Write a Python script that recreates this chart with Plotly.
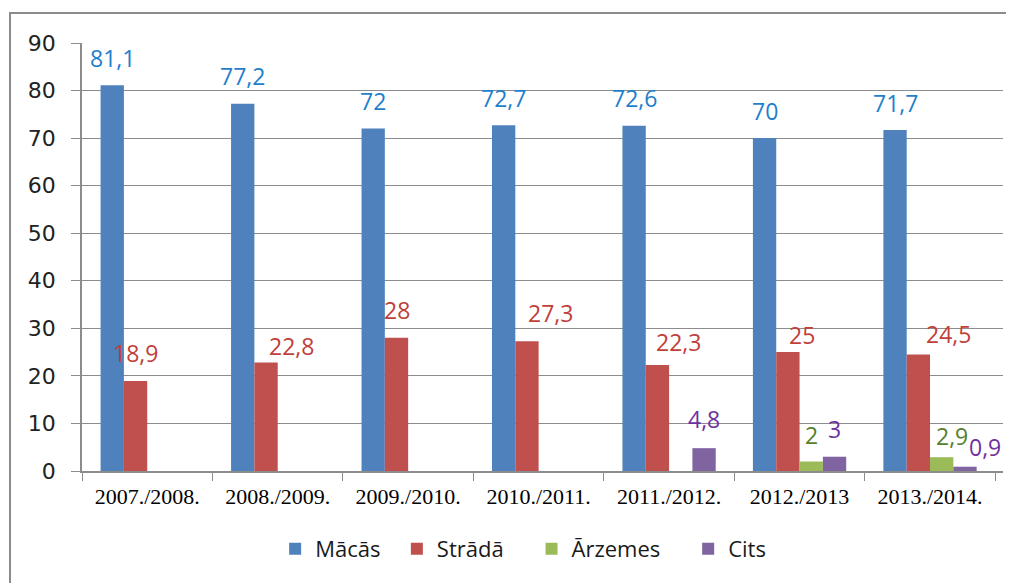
import plotly.graph_objects as go

categories = ["2007./2008.", "2008./2009.", "2009./2010.", "2010./2011.",
              "2011./2012.", "2012./2013", "2013./2014."]
macas = [81.1, 77.2, 72, 72.7, 72.6, 70, 71.7]
strada = [18.9, 22.8, 28, 27.3, 22.3, 25, 24.5]
arzemes = [None, None, None, None, None, 2, 2.9]
cits = [None, None, None, None, 4.8, 3, 0.9]
y_ticks = [0, 10, 20, 30, 40, 50, 60, 70, 80, 90]

series = [
    ("Mācās", macas, "#4F81BD", "#1E7FCB"),
    ("Strādā", strada, "#C0504D", "#C0403A"),
    ("Ārzemes", arzemes, "#9BBB59", "#55802E"),
    ("Cits", cits, "#8064A2", "#7030A0"),
]
legend_pad = [2, 4, 4, 0]

# label nudges (px) per series, per category: (dx, dy above bar top)
label_nudge = [
    [(0, 26.5)] * 7,
    [(0, 27), (25, 16), (0, 26.5), (24, 27), (21, 22), (14, 16), (30.5, 19)],
    [(0, 0)] * 5 + [(0, 25), (10.5, 20)],
    [(0, 0)] * 4 + [(0, 28), (0, 27), (20, 19)],
]

bargap = 0.285
bar_w = (1 - bargap) / 4


def fmt(v):
    s = ("%g" % v)
    return s.replace(".", ",")


fig = go.Figure()
for (name, vals, col, _), pad in zip(series, legend_pad):
    fig.add_trace(go.Bar(name=name + "\u00a0" * pad, x=categories, y=vals,
                         marker=dict(color=col, line=dict(width=0))))

annotations = []
for si, (name, vals, col, lcol) in enumerate(series):
    off = (si - 1.5) * bar_w
    for ci, v in enumerate(vals):
        if v is None:
            continue
        dx, dy = label_nudge[si][ci]
        annotations.append(dict(
            x=ci + off, y=v, xref="x", yref="y", text=fmt(v), showarrow=False,
            xanchor="center", yanchor="middle", xshift=dx, yshift=dy + 1,
            font=dict(family="Open Sans", size=23, color=lcol)))

# page body has an 8px margin; figure sized so its drawing lands as in the reference
fig.update_layout(
    width=1006, height=575,
    margin=dict(l=74, r=11, t=35, b=112, autoexpand=False),
    paper_bgcolor="white", plot_bgcolor="white",
    barmode="group", bargap=bargap, bargroupgap=0,
    annotations=annotations,
    showlegend=True,
    legend=dict(orientation="h", x=0.479, xanchor="center", y=-0.182, yanchor="middle",
                font=dict(family="Open Sans", size=22, color="#1a1a1a"),
                itemwidth=30, traceorder="normal"),
    xaxis=dict(type="category", showgrid=False, showline=True, linecolor="#8C8C8C", linewidth=1.5,
               ticks="outside", tickson="boundaries", ticklen=8, tickcolor="#8C8C8C",
               tickfont=dict(family="Liberation Serif", size=22, color="black"),
               ticklabelstandoff=5),
    yaxis=dict(range=[0, 90], tickvals=y_ticks, showgrid=True, gridcolor="#8C8C8C", gridwidth=1,
               showline=True, linecolor="#8C8C8C", linewidth=1.5, zeroline=False,
               ticks="outside", ticklen=9, tickcolor="#8C8C8C",
               tickfont=dict(family="DejaVu Sans", size=22, color="#222222"),
               ticklabelstandoff=11),
    shapes=[dict(type="rect", xref="paper", yref="paper",
                 x0=(10 - 82) / 921, x1=1.2, y0=-0.5, y1=(471 - 13) / 428,
                 line=dict(color="#8C8C8C", width=2), fillcolor="rgba(0,0,0,0)", layer="below")],
)

fig.write_html("out.html")
